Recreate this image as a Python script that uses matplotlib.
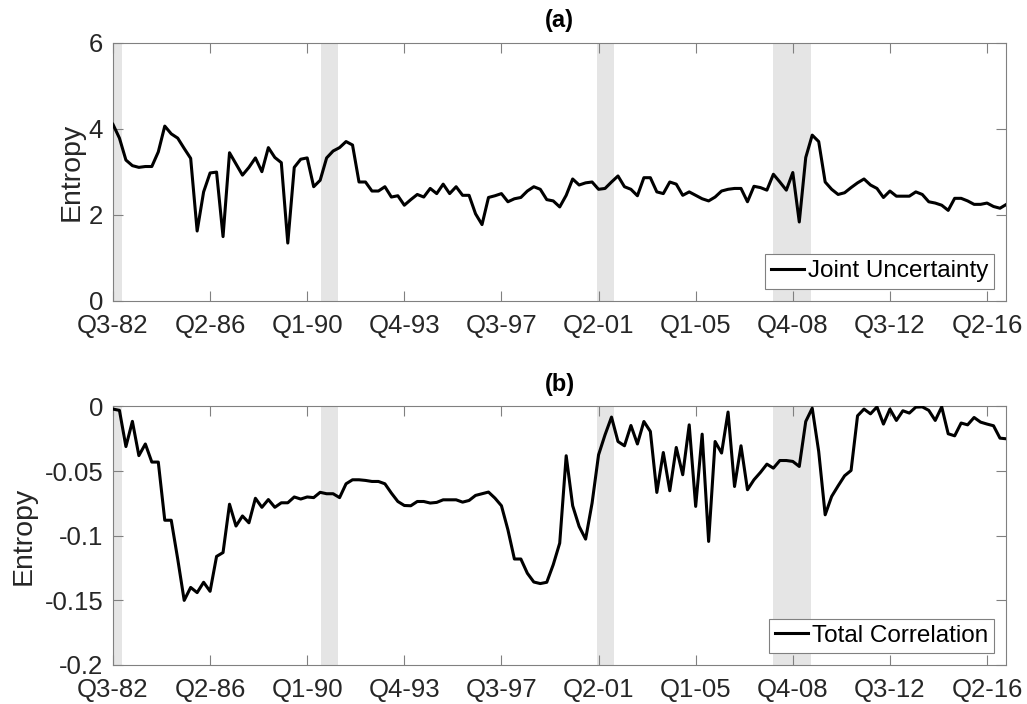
import numpy as np
import matplotlib.pyplot as plt

plt.rcParams['font.family'] = ['Liberation Sans', 'DejaVu Sans']

# Quarterly data from Q3-82 to Q1-17
joint_unc = [4.10, 3.78, 3.27, 3.14, 3.10, 3.12, 3.12, 3.46, 4.06, 3.88,
             3.78, 3.54, 3.31, 1.62, 2.53, 2.97, 2.99, 1.49, 3.44, 3.18,
             2.92, 3.10, 3.32, 3.00, 3.56, 3.33, 3.21, 1.34, 3.10, 3.29,
             3.32, 2.65, 2.80, 3.32, 3.48, 3.56, 3.70, 3.62, 2.76, 2.76,
             2.55, 2.55, 2.65, 2.41, 2.44, 2.22, 2.35, 2.47, 2.41, 2.61,
             2.49, 2.71, 2.49, 2.65, 2.45, 2.45, 2.02, 1.77, 2.40, 2.44,
             2.49, 2.30, 2.37, 2.40, 2.55, 2.65, 2.59, 2.35, 2.32, 2.18,
             2.45, 2.83, 2.69, 2.74, 2.76, 2.59, 2.61, 2.76, 2.90, 2.65,
             2.59, 2.44, 2.86, 2.86, 2.53, 2.49, 2.76, 2.71, 2.45, 2.53,
             2.45, 2.37, 2.32, 2.41, 2.55, 2.59, 2.61, 2.61, 2.30, 2.66,
             2.63, 2.57, 2.94, 2.76, 2.57, 2.98, 1.83, 3.33, 3.85, 3.70,
             2.76, 2.59, 2.47, 2.51, 2.63, 2.74, 2.83, 2.69, 2.61, 2.40,
             2.55, 2.43, 2.43, 2.43, 2.53, 2.47, 2.30, 2.27, 2.22, 2.10,
             2.38, 2.38, 2.32, 2.24, 2.24, 2.27, 2.19, 2.15, 2.24]

total_corr = [-0.002, -0.003, -0.031, -0.0115, -0.038, -0.029, -0.043, -0.043, -0.088, -0.088,
              -0.118, -0.150, -0.140, -0.144, -0.136, -0.143, -0.116, -0.113, -0.0756, -0.0925,
              -0.0847, -0.090, -0.071, -0.078, -0.072, -0.078, -0.0745, -0.0745, -0.070, -0.0716,
              -0.070, -0.0705, -0.0664, -0.0675, -0.0675, -0.0705, -0.0598, -0.0567, -0.0567, -0.0572,
              -0.058, -0.058, -0.0598, -0.067, -0.0735, -0.0766, -0.0768, -0.0735, -0.0735, -0.0747,
              -0.0742, -0.0722, -0.0722, -0.0722, -0.074, -0.0727, -0.0688, -0.0675, -0.0662, -0.0709,
              -0.0768, -0.0954, -0.118, -0.118, -0.129, -0.1358, -0.137, -0.136, -0.1224, -0.1057,
              -0.0381, -0.0768, -0.0928, -0.1026, -0.0747, -0.0374, -0.0219, -0.0082, -0.0271, -0.0304,
              -0.0147, -0.029, -0.0116, -0.0193, -0.0665, -0.0356, -0.0652, -0.0317, -0.0528, -0.0142,
              -0.0773, -0.0214, -0.1044, -0.0271, -0.036, -0.0043, -0.0619, -0.0304, -0.0644, -0.0567,
              -0.051, -0.0446, -0.0477, -0.0418, -0.0418, -0.0425, -0.0464, -0.0116, -0.0013, -0.0348,
              -0.0838, -0.0696, -0.0614, -0.0536, -0.0495, -0.0072, -0.002, -0.0057, -0.0003, -0.0136,
              -0.002, -0.0108, -0.0033, -0.0051, -0.0005, -0.0003, -0.003, -0.0108, -0.0003, -0.0211,
              -0.0227, -0.0128, -0.0142, -0.0085, -0.0121, -0.0136, -0.0149, -0.0245, -0.025]

tick_pos = [0, 15, 30, 45, 60, 75, 90, 105, 120, 135]
tick_labels = ['Q3-82', 'Q2-86', 'Q1-90', 'Q4-93', 'Q3-97',
               'Q2-01', 'Q1-05', 'Q4-08', 'Q3-12', 'Q2-16']

# recession periods (in quarter index units)
recessions = [(0, 1.35), (32.1, 34.7), (74.8, 77.4), (101.9, 107.8)]

x = np.arange(len(joint_unc))

fig = plt.figure(figsize=(10.27, 7.04), dpi=100)
ax1 = fig.add_axes([0.110, 0.5729, 0.8700, 0.3665])
ax2 = fig.add_axes([0.110, 0.0554, 0.8700, 0.3672])

panels = [
    (ax1, joint_unc, 'Joint Uncertainty', '(a)', (0, 6), [0, 2, 4, 6], ['0', '2', '4', '6'], 3),
    (ax2, total_corr, 'Total Correlation', '(b)', (-0.2, 0),
     [-0.2, -0.15, -0.1, -0.05, 0], ['-0.2', '-0.15', '-0.1', '-0.05', '0'], 6),
]

for ax, y, lab, title, ylim, yt, ytl, lpad in panels:
    for a, b in recessions:
        ax.axvspan(a, b, color='#e5e5e5', lw=0, zorder=0)
    ax.plot(x, y, color='black', lw=2.2, label=lab, zorder=3)
    ax.set_xlim(0, 138)
    ax.set_ylim(*ylim)
    ax.set_xticks(tick_pos)
    ax.set_xticklabels(tick_labels)
    ax.set_yticks(yt)
    ax.set_yticklabels(ytl)
    ax.tick_params(direction='in', top=True, right=True, length=7, width=0.8,
                   color='#808080', labelcolor='#262626', labelsize=18.5)
    ax.tick_params(axis='x', pad=9.5)
    ax.tick_params(axis='y', pad=7)
    for s in ax.spines.values():
        s.set_color('#808080')
        s.set_linewidth(0.8)
    ax.set_ylabel('Entropy', fontsize=20.5, color='#262626', labelpad=lpad)
    ax.set_title(title, fontsize=17, fontweight='bold', pad=11)
    leg = ax.legend(loc='lower right', fontsize=17.5, handlelength=1.37,
                    handletextpad=0.15, borderaxespad=0.5, fancybox=False,
                    borderpad=0.25, framealpha=1)
    leg.get_frame().set_edgecolor('#808080')
    leg.get_frame().set_linewidth(0.8)

fig.savefig('out.png', dpi=100)
plt.close(fig)
